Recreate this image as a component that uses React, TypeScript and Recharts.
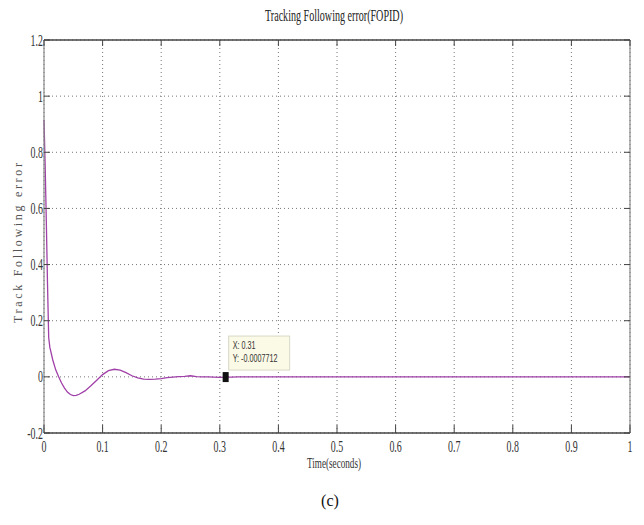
import React from "react";
import { LineChart, Line, XAxis, YAxis, CartesianGrid, ReferenceDot } from "recharts";

// Tracking error of the FOPID controller over time
const timeSec = [
  0, 0.002, 0.004, 0.006, 0.008, 0.01, 0.015, 0.02, 0.025, 0.03, 0.035, 0.04, 0.045,
  0.05, 0.055, 0.06, 0.07, 0.08, 0.09, 0.1, 0.11, 0.12, 0.13, 0.14, 0.15, 0.16, 0.17,
  0.18, 0.19, 0.2, 0.21, 0.22, 0.23, 0.24, 0.25, 0.26, 0.27, 0.28, 0.29, 0.3, 0.31,
  0.32, 0.33, 0.35, 0.4, 0.5, 0.6, 0.7, 0.8, 0.9, 1.0,
];
const trackError = [
  0.915, 0.75, 0.55, 0.33, 0.14, 0.105, 0.06, 0.025, 0.0, -0.022, -0.04, -0.054, -0.063,
  -0.067, -0.066, -0.062, -0.05, -0.032, -0.012, 0.008, 0.022, 0.027, 0.024, 0.015, 0.004,
  -0.004, -0.008, -0.009, -0.008, -0.006, -0.003, -0.001, 0.001, 0.002, 0.004, 0.001, 0.0,
  0.0, -0.001, -0.002, -0.0007712, -0.001, 0.0, 0.0, 0.0, 0.0, 0.0, 0.0, 0.0, 0.0, 0.0,
];

const xTicks = [0, 0.1, 0.2, 0.3, 0.4, 0.5, 0.6, 0.7, 0.8, 0.9, 1];
const yTicks = [-0.2, 0, 0.2, 0.4, 0.6, 0.8, 1, 1.2];
const xTickLabels = ["0", "0.1", "0.2", "0.3", "0.4", "0.5", "0.6", "0.7", "0.8", "0.9", "1"];
const yTickLabels = ["-0.2", "0", "0.2", "0.4", "0.6", "0.8", "1", "1.2"];

// Data cursor
const tipX = 0.31;
const tipY = -0.0007712;
const tipLines = ["X: 0.31", "Y: -0.0007712"];

const data = timeSec.map((t, i) => ({ t, e: trackError[i] }));

const SERIF = "'Liberation Serif', 'Times New Roman', serif";
const TICK_COLOR = "#444";
const TICK_FONT = 16;
const TICK_SQUEEZE = 0.62;

const labelFor = (v: number, ticks: number[], labels: string[]) => {
  const i = ticks.findIndex((k) => Math.abs(k - v) < 1e-9);
  return i >= 0 ? labels[i] : String(v);
};

const BottomTick = (props: any) => {
  const { x, y, payload } = props;
  return (
    <g>
      <line x1={x} y1={y} x2={x} y2={y - 8} stroke={TICK_COLOR} strokeWidth={1} />
      <text
        transform={`translate(${x},${y + 19}) scale(${TICK_SQUEEZE},1)`}
        textAnchor="middle"
        fontFamily={SERIF}
        fontSize={TICK_FONT}
        fill="#333"
      >
        {labelFor(payload.value, xTicks, xTickLabels)}
      </text>
    </g>
  );
};

const TopTick = (props: any) => {
  const { x, y } = props;
  return <line x1={x} y1={y} x2={x} y2={y + 6} stroke={TICK_COLOR} strokeWidth={1} />;
};

const LeftTick = (props: any) => {
  const { x, y, payload } = props;
  return (
    <g>
      <line x1={x} y1={y} x2={x + 6} y2={y} stroke={TICK_COLOR} strokeWidth={1} />
      <text
        transform={`translate(${x - 1},${y + 5.5}) scale(${TICK_SQUEEZE},1)`}
        textAnchor="end"
        fontFamily={SERIF}
        fontSize={TICK_FONT}
        fill="#333"
      >
        {labelFor(payload.value, yTicks, yTickLabels)}
      </text>
    </g>
  );
};

const RightTick = (props: any) => {
  const { x, y } = props;
  return <line x1={x} y1={y} x2={x - 6} y2={y} stroke={TICK_COLOR} strokeWidth={1} />;
};

const DataTip = (props: any) => {
  const { cx, cy } = props;
  const bx = cx + 3;
  const by = cy - 41;
  return (
    <g>
      <rect x={bx} y={by} width={61} height={34} fill="#fbfae6" stroke="#d8d8c8" strokeWidth={1} />
      {tipLines.map((s, i) => (
        <text
          key={s}
          transform={`translate(${bx + 4},${by + 13 + i * 13}) scale(0.72,1)`}
          fontFamily="'Liberation Sans', Arial, sans-serif"
          fontSize={10}
          fill="#333"
        >
          {s}
        </text>
      ))}
      <rect x={cx - 3} y={cy - 5} width={6} height={10} fill="#111" />
    </g>
  );
};

export default function App() {
  return (
    <div style={{ position: "absolute", left: 0, top: 0, width: 644, height: 525, background: "#fff" }}>
      <svg
        width={644}
        height={525}
        style={{ position: "absolute", left: 0, top: 0, pointerEvents: "none" }}
      >
        <text
          x={334}
          y={21}
          textAnchor="middle"
          fontFamily={SERIF}
          fontSize={16}
          textLength={138}
          lengthAdjust="spacingAndGlyphs"
          fill="#222"
        >
          Tracking Following error(FOPID)
        </text>
        <text
          transform="translate(22,243) rotate(-90)"
          textAnchor="middle"
          fontFamily={SERIF}
          fontSize={12}
          textLength={160}
          lengthAdjust="spacing"
          fill="#555"
        >
          Track Following error
        </text>
        <text
          x={334}
          y={468}
          textAnchor="middle"
          fontFamily={SERIF}
          fontSize={15}
          textLength={54}
          lengthAdjust="spacingAndGlyphs"
          fill="#333"
        >
          Time(seconds)
        </text>
        <text x={330} y={506} textAnchor="middle" fontFamily={SERIF} fontSize={16} fill="#111">
          (c)
        </text>
      </svg>
      <LineChart
        width={644}
        height={525}
        data={data}
        margin={{ top: 39, right: 13, bottom: 91, left: 43 }}
        style={{ position: "absolute", left: 0, top: 0 }}
      >
        <CartesianGrid stroke="#777" strokeDasharray="1 3" strokeWidth={1} />
        <XAxis
          dataKey="t"
          type="number"
          domain={[0, 1]}
          ticks={xTicks}
          height={1}
          tickSize={0}
          tickMargin={0}
          tickLine={false}
          tick={BottomTick}
          axisLine={{ stroke: "#444", strokeWidth: 1.5 }}
          interval={0}
        />
        <XAxis
          xAxisId="top"
          orientation="top"
          dataKey="t"
          type="number"
          domain={[0, 1]}
          ticks={xTicks}
          height={1}
          tickSize={0}
          tickMargin={0}
          tickLine={false}
          tick={TopTick}
          axisLine={{ stroke: "#444", strokeWidth: 1.5 }}
          interval={0}
        />
        <YAxis
          type="number"
          domain={[-0.2, 1.2]}
          ticks={yTicks}
          width={1}
          tickSize={0}
          tickMargin={0}
          tickLine={false}
          tick={LeftTick}
          axisLine={{ stroke: "#888", strokeWidth: 1.2 }}
          interval={0}
        />
        <YAxis
          yAxisId="right"
          orientation="right"
          type="number"
          domain={[-0.2, 1.2]}
          ticks={yTicks}
          width={1}
          tickSize={0}
          tickMargin={0}
          tickLine={false}
          tick={RightTick}
          axisLine={{ stroke: "#888", strokeWidth: 1.2 }}
          interval={0}
        />
        {/* invisible twin series so the frame axes (top / right) get the same scales */}
        <Line
          xAxisId="top"
          yAxisId="right"
          type="linear"
          dataKey="e"
          stroke="none"
          dot={false}
          activeDot={false}
          isAnimationActive={false}
        />
        <Line
          type="linear"
          dataKey="e"
          stroke="#a040a8"
          strokeWidth={1.3}
          dot={false}
          isAnimationActive={false}
        />
        <ReferenceDot x={tipX} y={tipY} r={3} shape={DataTip} ifOverflow="visible" />
      </LineChart>
    </div>
  );
}
